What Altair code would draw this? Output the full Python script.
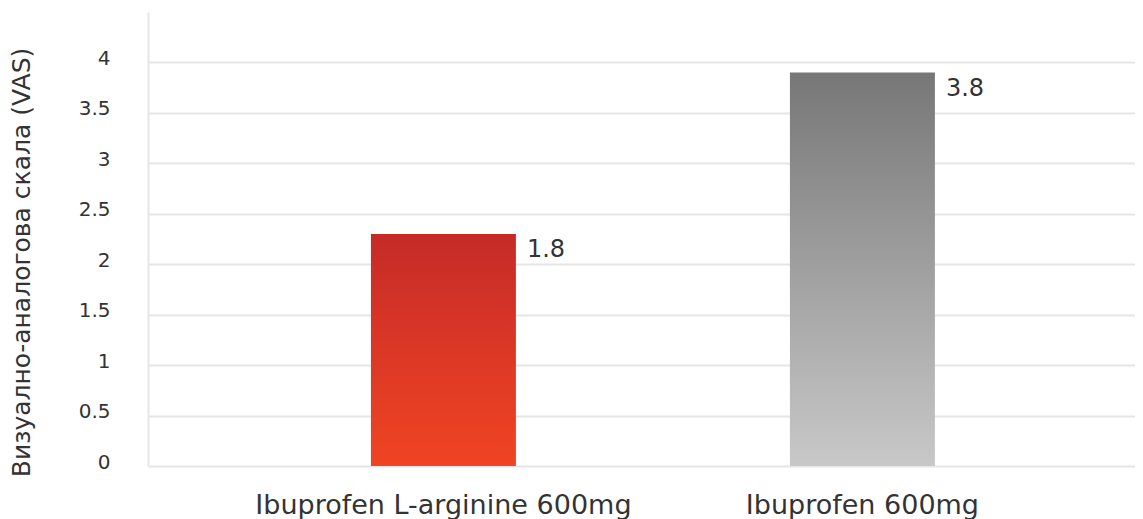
import altair as alt
import pandas as pd

drugs = ["Ibuprofen L-arginine 600mg", "Ibuprofen 600mg"]
bar_values = [2.3, 3.9]
label_texts = ["1.8", "3.8"]
y_ticks = [0, 0.5, 1, 1.5, 2, 2.5, 3, 3.5, 4]
top_colors = ["#c62b28", "#777777"]
bottom_colors = ["#f04423", "#c8c8c8"]
y_title = "Визуално-аналогова скала (VAS)"

df = pd.DataFrame({"drug": drugs, "vas": bar_values, "label": label_texts})

FONT = "DejaVu Sans"
TXT = "#333333"
GRID = "#e6e6e6"

x = alt.X(
    "drug:N",
    sort=drugs,
    scale=alt.Scale(domain=drugs, paddingInner=0.654, paddingOuter=0.5048, align=0.527),
    axis=alt.Axis(
        title=None, labelAngle=0, domain=False, ticks=False, tickSize=0,
        labelFontSize=27, labelPadding=47, labelColor=TXT, labelFont=FONT,
        labelBaseline="alphabetic", labelLimit=0, grid=False,
    ),
)
y = alt.Y(
    "vas:Q",
    scale=alt.Scale(domain=[0, 4.5], nice=False),
    axis=alt.Axis(
        values=y_ticks, format="~g", title=y_title, grid=True, gridColor=GRID, gridWidth=2,
        domain=True, domainColor=GRID, domainWidth=2, ticks=False, tickSize=0,
        labelPadding=38, labelFontSize=20, labelColor=TXT, labelFont=FONT,
        labelBaseline="alphabetic", labelOffset=2,
        titleFont=FONT, titleFontSize=25, titleColor=TXT, titleFontWeight="normal",
        titleX=-127, titleY=250, titleAngle=270, titleAlign="center", titleBaseline="middle",
    ),
)

layers = []
for d, top, bot in zip(drugs, top_colors, bottom_colors):
    grad = alt.Gradient(
        gradient="linear", x1=0, x2=0, y1=0, y2=1,
        stops=[alt.GradientStop(color=top, offset=0), alt.GradientStop(color=bot, offset=1)],
    )
    layers.append(
        alt.Chart(df).transform_filter(alt.datum.drug == d).mark_bar(color=grad).encode(x=x, y=y)
    )

labels = alt.Chart(df).mark_text(
    align="left", baseline="alphabetic", dx=83.5, dy=23, fontSize=24, font=FONT, color=TXT
).encode(x=x, y=y, text="label:N")

chart = alt.layer(*layers, labels).properties(
    width=987, height=454,
    autosize=alt.AutoSizeParams(type="none"),
    padding={"left": 140, "top": 4, "right": 0, "bottom": 53},
).configure_view(stroke=None)

chart.save("out.html", embed_options={"renderer": "svg", "actions": False})
